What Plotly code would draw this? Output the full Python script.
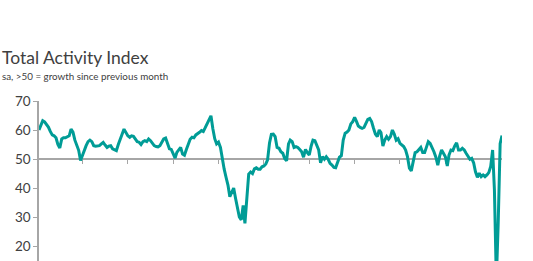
import pandas as pd
import plotly.graph_objects as go

# Monthly Total Activity Index, Feb 2000 - Jul 2020
start_month = "2000-02-01"
values = [
    60.0, 61.8, 63.2, 62.8, 62.0, 61.0, 59.5, 58.3, 58.0, 57.3,   # 2000-02 .. 2000-11
    55.0, 53.8, 56.9, 57.3, 57.3, 57.8, 58.0, 60.3, 59.3, 56.5,   # 2000-12 .. 2001-09
    55.0, 53.0, 49.5, 51.5, 53.0, 54.6, 56.0, 56.5, 56.0, 54.6,   # 2001-10 .. 2002-07
    54.4, 54.5, 54.6, 55.2, 55.7, 54.8, 54.0, 54.4, 54.6, 53.5,   # 2002-08 .. 2003-05
    53.3, 52.9, 55.0, 56.5, 58.5, 60.3, 59.0, 58.0, 57.5, 58.0,   # 2003-06 .. 2004-03
    57.8, 56.8, 56.0, 55.8, 55.0, 56.0, 56.3, 56.0, 56.9, 56.3,   # 2004-04 .. 2005-01
    55.5, 54.6, 54.3, 54.2, 54.6, 55.7, 56.9, 57.2, 55.2, 53.5,   # 2005-02 .. 2005-11
    53.3, 51.5, 50.3, 52.3, 53.4, 54.0, 51.7, 51.3, 53.3, 55.0,   # 2005-12 .. 2006-09
    56.8, 57.5, 57.3, 58.3, 58.7, 59.2, 59.8, 59.5, 60.8, 62.0,   # 2006-10 .. 2007-07
    63.5, 64.9, 60.5, 57.0, 55.2, 55.8, 54.0, 49.5, 46.5, 43.7,   # 2007-08 .. 2008-05
    41.0, 37.0, 38.5, 40.0, 36.5, 33.0, 30.0, 29.0, 34.0, 27.8,   # 2008-06 .. 2009-03
    35.0, 44.8, 45.5, 45.0, 46.6, 47.0, 46.5, 46.5, 47.3, 47.6,   # 2009-04 .. 2010-01
    48.3, 49.7, 55.5, 58.5, 58.6, 57.7, 54.0, 53.7, 52.5, 52.0,   # 2010-02 .. 2010-11
    50.2, 49.4, 55.2, 56.5, 56.0, 54.0, 54.3, 54.0, 53.3, 52.5,   # 2010-12 .. 2011-09
    50.6, 53.3, 52.2, 51.4, 54.5, 56.5, 56.3, 54.5, 53.1, 48.7,   # 2011-10 .. 2012-07
    50.8, 49.9, 50.8, 49.9, 48.5, 47.9, 47.1, 47.0, 49.1, 50.6,   # 2012-08 .. 2013-05
    51.1, 56.5, 58.9, 59.3, 60.0, 62.1, 62.9, 64.4, 62.9, 61.4,   # 2013-06 .. 2014-03
    60.9, 60.6, 60.9, 62.5, 63.7, 64.0, 62.9, 60.6, 58.6, 57.7,   # 2014-04 .. 2015-01
    60.0, 59.1, 54.5, 56.5, 57.7, 56.8, 57.7, 60.0, 58.6, 56.5,   # 2015-02 .. 2015-11
    57.0, 55.4, 54.7, 54.3, 53.1, 50.8, 46.8, 45.9, 49.1, 52.2,   # 2015-12 .. 2016-09
    52.5, 53.1, 54.0, 52.2, 52.2, 54.0, 56.0, 55.4, 54.0, 52.5,   # 2016-10 .. 2017-07
    50.6, 47.9, 51.0, 53.1, 52.0, 50.8, 47.6, 51.4, 53.1, 52.9,   # 2017-08 .. 2018-05
    54.5, 55.6, 53.1, 53.1, 53.7, 53.1, 52.0, 51.0, 49.9, 50.2,   # 2018-06 .. 2019-03
    48.7, 45.6, 43.7, 45.1, 43.9, 44.5, 43.9, 44.5, 45.3, 47.4,   # 2019-04 .. 2020-01
    53.1, 39.3, 8.2, 28.0, 55.3, 58.1,                            # 2020-02 .. 2020-07
]
months = pd.date_range(start_month, periods=len(values), freq="MS")

y_ticks = [20, 30, 40, 50, 60, 70]
y_min, y_max = 14.83, 70
threshold = 50

title_text = "Total Activity Index"
subtitle_text = "sa, &gt;50 = growth since previous month"

W, H = 533, 261
ML, MR, MT, MB = 39, 31, 101, 0
plot_w = W - ML - MR
plot_h = H - MT - MB

line_color = "#009c96"
axis_color = "#a6a6a6"
text_color = "#404040"
font_family = "Lato, 'Open Sans', sans-serif"

fig = go.Figure()
fig.add_trace(go.Scatter(
    x=months, y=values, mode="lines",
    line=dict(color=line_color, width=3),
    hoverinfo="skip",
))

fig.update_layout(
    width=W, height=H,
    margin=dict(l=ML, r=MR, t=MT, b=MB, pad=0),
    paper_bgcolor="white", plot_bgcolor="white",
    showlegend=False,
    template="none",
    font=dict(family=font_family, color=text_color),
    xaxis=dict(
        range=[months[0], months[-1]],
        anchor="free",
        position=(threshold - y_min) / (y_max - y_min),
        showline=True, linecolor=axis_color, linewidth=1.5,
        ticks="outside", ticklen=4, tickwidth=1, tickcolor=axis_color,
        dtick="M24", tick0="2002-01-01",
        showticklabels=False, showgrid=False, zeroline=False,
        layer="below traces", automargin=False,
    ),
    yaxis=dict(
        range=[y_min, y_max],
        tickvals=y_ticks,
        showline=True, linecolor=axis_color, linewidth=1.5,
        ticks="outside", ticklen=4, tickwidth=1, tickcolor=axis_color,
        tickfont=dict(size=13.5, color=text_color, family=font_family),
        showgrid=False, zeroline=False, automargin=False,
        layer="below traces",
    ),
    annotations=[
        dict(text=title_text, xref="paper", yref="paper",
             x=(0 - ML) / plot_w, y=1 + (MT - 57) / plot_h,
             xanchor="left", yanchor="middle", showarrow=False,
             font=dict(size=17.5, color=text_color, family=font_family)),
        dict(text=subtitle_text, xref="paper", yref="paper",
             x=(0 - ML) / plot_w, y=1 + (MT - 75.5) / plot_h,
             xanchor="left", yanchor="middle", showarrow=False,
             font=dict(size=9.8, color=text_color, family=font_family)),
    ],
)

fig.write_html("out.html", config={"displayModeBar": False})
